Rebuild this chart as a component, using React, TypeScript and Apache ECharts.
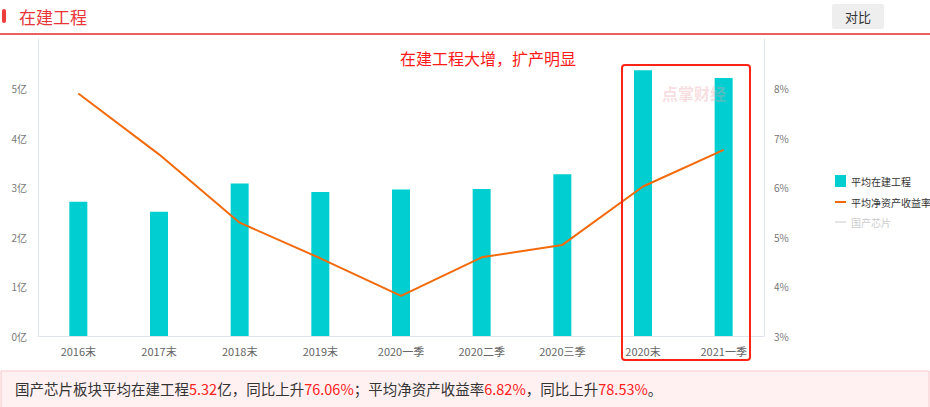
import React, { useEffect, useRef } from "react";
import * as echarts from "echarts";

const categories = ["2016末", "2017末", "2018末", "2019末", "2020一季", "2020二季", "2020三季", "2020末", "2021一季"];
const constructionValues = [2.71, 2.51, 3.08, 2.91, 2.96, 2.97, 3.27, 5.37, 5.21];
const roeValues = [7.9, 6.67, 5.29, 4.57, 3.81, 4.59, 4.84, 6.02, 6.76];
const leftTicks = { min: 0, max: 6, interval: 1 };
const rightTicks = { min: 3, max: 9, interval: 1 };
const seriesNames = ["平均在建工程", "平均净资产收益率", "国产芯片"];

const FONT = "'Microsoft YaHei', 'Noto Sans CJK SC', sans-serif";
const LINE_ICON = "path://M0,0 L16,0 L16,3 L0,3 Z";

export default function App() {
  const ref = useRef<HTMLDivElement>(null);
  useEffect(() => {
    if (!ref.current) return;
    const chart = echarts.init(ref.current, undefined, { renderer: "svg" });
    const summary = [
      { t: "国产芯片板块平均在建工程", red: false },
      { t: "5.32", red: true },
      { t: "亿，同比上升", red: false },
      { t: "76.06%", red: true },
      { t: "；平均净资产收益率", red: false },
      { t: "6.82%", red: true },
      { t: "，同比上升", red: false },
      { t: "78.53%", red: true },
      { t: "。", red: false },
    ];
    const richText = summary.map((s) => `{${s.red ? "r" : "n"}|${s.t}}`).join("");
    chart.setOption({
      animation: false,
      textStyle: { fontFamily: FONT },
      grid: { left: 38, right: 166, top: 39, bottom: 71 },
      legend: {
        orient: "vertical",
        left: 830,
        top: 170,
        itemGap: 10,
        itemWidth: 11,
        itemHeight: 12,
        textStyle: { fontSize: 10, color: "#333" },
        data: [
          { name: seriesNames[0], icon: "rect" },
          { name: seriesNames[1], icon: LINE_ICON, itemStyle: { color: "#f26a0a" } },
          { name: seriesNames[2], icon: "path://M0,0 L16,0 L16,1.5 L0,1.5 Z" },
        ],
        selected: { [seriesNames[2]]: false },
        inactiveColor: "#ccc",
      },
      xAxis: {
        type: "category",
        data: categories,
        axisTick: { show: false },
        axisLine: { lineStyle: { color: "#dfe4ef" } },
        axisLabel: { color: "#666", fontSize: 11, margin: 9 },
      },
      yAxis: [
        {
          type: "value",
          min: leftTicks.min,
          max: leftTicks.max,
          interval: leftTicks.interval,
          splitLine: { show: false },
          axisLine: { show: true, lineStyle: { color: "#dfe4ef" } },
          axisTick: { show: false },
          axisLabel: { color: "#777", fontSize: 10, margin: 11, showMaxLabel: false, formatter: (v: number) => `${v}亿` },
        },
        {
          type: "value",
          min: rightTicks.min,
          max: rightTicks.max,
          interval: rightTicks.interval,
          splitLine: { show: false },
          axisLine: { show: true, lineStyle: { color: "#dfe4ef" } },
          axisTick: { show: false },
          axisLabel: { color: "#777", fontSize: 10, margin: 10, showMaxLabel: false, formatter: (v: number) => `${v}%` },
        },
      ],
      series: [
        {
          name: seriesNames[0],
          type: "bar",
          data: constructionValues,
          barWidth: 18,
          itemStyle: { color: "#00CED1" },
        },
        {
          name: seriesNames[1],
          type: "line",
          yAxisIndex: 1,
          data: roeValues,
          showSymbol: false,
          symbol: "none",
          itemStyle: { color: "#f26a0a" },
          lineStyle: { color: "#f26a0a", width: 2 },
        },
        {
          name: seriesNames[2],
          type: "line",
          yAxisIndex: 1,
          data: [],
          itemStyle: { color: "#999" },
        },
      ],
      graphic: [
        { type: "rect", shape: { x: 2, y: 9, width: 4, height: 14, r: 2 }, style: { fill: "#ee3b3b" } },
        { type: "text", x: 19, y: 16, style: { text: "在建工程", fill: "#e8353a", fontSize: 17, fontFamily: FONT, verticalAlign: "middle" } },
        { type: "line", shape: { x1: 0, y1: 34, x2: 930, y2: 34 }, style: { stroke: "#e52b2b", lineWidth: 1.5 } },
        { type: "rect", shape: { x: 832, y: 4, width: 52, height: 25, r: 2 }, style: { fill: "#eeeeee" } },
        { type: "text", x: 858, y: 16.5, style: { text: "对比", fill: "#333", fontSize: 13, fontFamily: FONT, align: "center", verticalAlign: "middle" } },
        { type: "text", x: 488, y: 58, style: { text: "在建工程大增，扩产明显", fill: "#ff1a1a", fontSize: 16, fontFamily: FONT, align: "center", verticalAlign: "middle" } },
        { type: "text", x: 694, y: 93, z: 50, style: { text: "点掌财经", fill: "rgba(235,160,165,0.35)", fontSize: 16, fontWeight: "bold", fontFamily: FONT, align: "center", verticalAlign: "middle" } },
        { type: "rect", shape: { x: 622, y: 65, width: 128, height: 295, r: 3 }, style: { fill: "none", stroke: "#ff2418", lineWidth: 2 }, z: 100 },
        { type: "rect", shape: { x: 1, y: 371, width: 928, height: 40 }, style: { fill: "#fff1f1", stroke: "#f8c6c6", lineWidth: 1 } },
        {
          type: "text",
          x: 15,
          y: 388,
          style: {
            text: richText,
            fontSize: 14.5,
            fontFamily: FONT,
            verticalAlign: "middle",
            rich: {
              n: { fill: "#333", fontSize: 14.5, fontFamily: FONT },
              r: { fill: "#ff2020", fontSize: 14.5, fontFamily: FONT },
            },
          },
        },
      ],
    });
    return () => chart.dispose();
  }, []);
  return <div ref={ref} style={{ position: "fixed", left: 0, top: 0, width: 930, height: 407, background: "#fff" }} />;
}
